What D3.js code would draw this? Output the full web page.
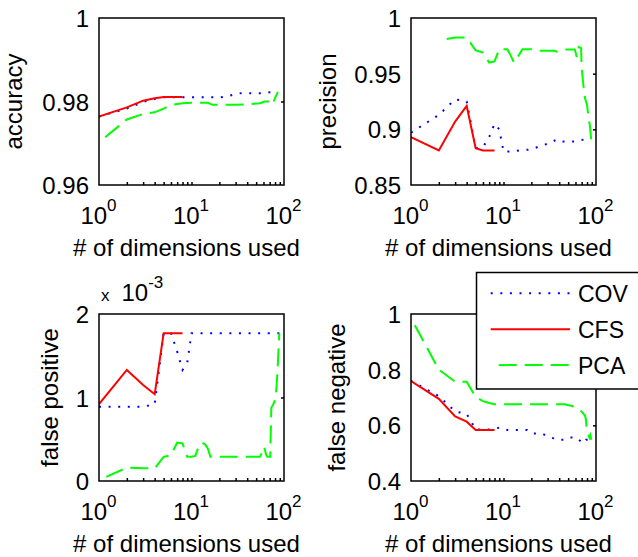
<!DOCTYPE html>
<html>
<head>
<meta charset="utf-8">
<script src="https://cdn.jsdelivr.net/npm/d3@7"></script>
<style>
    body { margin: 0; background: #fff; }
    svg { display: block; font-family: "Liberation Sans", Arial, sans-serif; }
</style>
</head>
<body>
<svg id="chart" width="638" height="557"></svg>
<script>
// Number of dimensions used (x values) and the measured values for each method

// CFS only ever picks up to 8 dimensions
const cfsDims = [1, 2, 3, 4, 5, 6, 7, 8];

// accuracy
const accCfs = [0.9764, 0.9786, 0.9802, 0.9808, 0.9811, 0.9811, 0.9811, 0.9811];
const accCovDims = [1, 2, 3, 4, 5, 6, 8, 10, 15, 20, 24, 28, 34, 45, 60, 70, 75, 86];
const accCov = [0.9764, 0.9783, 0.9799, 0.9806, 0.9810, 0.9810, 0.9810, 0.9810, 0.9810, 0.9810,
                0.9812, 0.9816, 0.9820, 0.9820, 0.9820, 0.9822, 0.9822, 0.9822];
const accPcaDims = [1, 2, 3, 4, 5, 6, 7, 8, 10, 15, 17, 30, 45, 55, 62, 74, 76, 79, 86];
const accPca = [0.9702, 0.9757, 0.9770, 0.9774, 0.9783, 0.9791, 0.9794, 0.9796, 0.9797, 0.9797,
                0.9792, 0.9792, 0.9794, 0.9796, 0.9800, 0.9800, 0.9794, 0.9806, 0.9823];

// precision
const precCfs = [0.893, 0.881, 0.907, 0.921, 0.883, 0.881, 0.881, 0.881];
const precCovDims = [1, 2, 3, 4, 5, 6, 7, 8, 9, 10, 12, 15, 20, 25, 30, 38, 44, 60, 75, 89];
const precCov = [0.897, 0.913, 0.927, 0.925, 0.883, 0.884, 0.893, 0.905, 0.900, 0.880,
                 0.880, 0.881, 0.882, 0.885, 0.887, 0.891, 0.889, 0.889, 0.891, 0.892];
const precPcaDims = [2, 3, 4, 5, 6, 7, 8, 9, 11, 12, 13, 15, 16, 20, 25, 35, 38, 48, 59,
                     62, 65, 69, 70, 73, 76, 80, 83, 86, 89];
const precPca = [0.980, 0.9825, 0.9825, 0.971, 0.969, 0.960, 0.961, 0.972, 0.972, 0.966,
                 0.960, 0.968, 0.972, 0.972, 0.9706, 0.9706, 0.9698, 0.9718, 0.9718,
                 0.965, 0.974, 0.973, 0.955, 0.940, 0.928, 0.922, 0.911, 0.903, 0.889];

// false positive rate
const fpCfs = [0.00092, 0.00133, 0.00115, 0.00104, 0.00177, 0.00177, 0.00177, 0.00177];
const fpCovDims = [1, 2, 3, 4, 5, 6, 7, 8, 9, 10, 89];
const fpCov = [0.00089, 0.00089, 0.00089, 0.00092, 0.00177, 0.00177, 0.00155, 0.00133,
               0.00142, 0.00177, 0.00177];
const fpPcaDims = [1, 2, 3, 4, 5, 6, 7, 8, 9, 10, 11, 12, 13, 14, 15, 16, 55, 58, 61, 64,
                   66, 71, 72, 73, 76, 80, 82, 85, 87, 89];
const fpPca = [0.00001, 0.00016, 0.000152, 0.000152, 0.00029, 0.00031, 0.00046, 0.00045,
               0.00029, 0.00029, 0.00030, 0.00042, 0.00046, 0.00044, 0.00039, 0.00029,
               0.00029, 0.00035, 0.00041, 0.00032, 0.00029, 0.00029, 0.00060, 0.00088,
               0.00091, 0.00097, 0.00105, 0.00130, 0.00155, 0.00177];

// false negative rate
const fnCfs = [0.759, 0.695, 0.632, 0.613, 0.583, 0.583, 0.583, 0.583];
const fnCovDims = [1, 2, 3, 4, 5, 6, 7, 8, 9, 10, 11, 18, 20, 26, 30, 35, 38, 46, 52, 62, 72, 78, 89];
const fnCov = [0.760, 0.705, 0.650, 0.641, 0.585, 0.585, 0.585, 0.586, 0.592, 0.587, 0.583,
               0.583, 0.571, 0.571, 0.560, 0.553, 0.548, 0.548, 0.556, 0.556, 0.535, 0.548, 0.550];
const fnPcaDims = [1, 2, 3, 4, 5, 6, 7, 8, 46, 59, 70, 76, 78, 79, 82, 85, 87, 89];
const fnPca = [0.985, 0.800, 0.757, 0.757, 0.702, 0.687, 0.680, 0.676, 0.676, 0.667, 0.649,
               0.635, 0.620, 0.588, 0.570, 0.556, 0.565, 0.548];

// Axis tick values
const xTicks = [1, 10, 100];
const xMinorTicks = [2, 3, 4, 5, 6, 7, 8, 9, 10, 20, 30, 40, 50, 60, 70, 80, 90];
const accTicks = [0.96, 0.98, 1];
const precTicks = [0.85, 0.9, 0.95, 1];
const fpTicks = [0, 0.001, 0.002];
const fnTicks = [0.4, 0.6, 0.8, 1];

const legendNames = ['COV', 'CFS', 'PCA'];

// Line styles, like MATLAB's 'b:', 'r-' and 'g--'
const lineStyles = {
    COV: { color: '#0000ff', dash: '2,7.6', offset: 0 },
    CFS: { color: '#ff0000', dash: null, offset: 0 },
    PCA: { color: '#00ff00', dash: '18,8', offset: 18 }
};

const PW = 185;
const PH = 167;
const FONT = 24;

const panels = [
    { name: 'acc', left: 99, top: 18, yDomain: [0.96, 1], yTicks: accTicks, inner: [0.98],
      label: 'accuracy', labelX: 22, fmt: v => String(+v.toFixed(2)),
      series: [['COV', accCovDims, accCov], ['CFS', cfsDims, accCfs], ['PCA', accPcaDims, accPca]] },
    { name: 'prec', left: 411, top: 18, yDomain: [0.85, 1], yTicks: precTicks, inner: [0.9, 0.95],
      label: 'precision', labelX: 336, fmt: v => String(+v.toFixed(2)),
      series: [['COV', precCovDims, precCov], ['CFS', cfsDims, precCfs], ['PCA', precPcaDims, precPca]] },
    { name: 'fp', left: 99, top: 314, yDomain: [0, 0.002], yTicks: fpTicks, inner: [0.001],
      label: 'false positive', labelX: 58, fmt: v => String(Math.round(v * 1000)),
      series: [['COV', fpCovDims, fpCov], ['CFS', cfsDims, fpCfs], ['PCA', fpPcaDims, fpPca]] },
    { name: 'fn', left: 411, top: 314, yDomain: [0.4, 1], yTicks: fnTicks, inner: [0.6, 0.8],
      label: 'false negative', labelX: 345, fmt: v => String(+v.toFixed(1)),
      series: [['COV', fnCovDims, fnCov], ['CFS', cfsDims, fnCfs], ['PCA', fnPcaDims, fnPca]] }
];

const svg = d3.select('#chart');

// Draw one subplot
function drawPanel(p) {
    const x = d3.scaleLog().domain([1, 100]).range([p.left, p.left + PW]);
    const y = d3.scaleLinear().domain(p.yDomain).range([p.top + PH, p.top]);
    const g = svg.append('g').attr('class', 'panel-' + p.name);

    g.append('clipPath').attr('id', 'clip-' + p.name)
        .append('rect')
        .attr('x', p.left).attr('y', p.top)
        .attr('width', PW).attr('height', PH);

    const line = d3.line()
        .x(d => x(d[0]))
        .y(d => y(d[1]));

    const lines = g.append('g').attr('clip-path', `url(#clip-${p.name})`);
    p.series.forEach(([key, dims, values]) => {
        const st = lineStyles[key];
        lines.append('path')
            .datum(d3.zip(dims, values))
            .attr('d', line)
            .attr('fill', 'none')
            .attr('stroke', st.color)
            .attr('stroke-width', 2)
            .attr('stroke-dasharray', st.dash)
            .attr('stroke-dashoffset', st.offset);
    });

    // Axes box
    g.append('rect')
        .attr('x', p.left).attr('y', p.top)
        .attr('width', PW).attr('height', PH)
        .attr('fill', 'none')
        .attr('stroke', '#000')
        .attr('stroke-width', 1.5);

    // Minor ticks along the bottom, pointing inward
    const minor = g.append('g')
        .attr('transform', `translate(0,${p.top + PH})`)
        .call(d3.axisTop(x).tickValues(xMinorTicks).tickSize(3).tickFormat(''));
    minor.select('.domain').remove();
    minor.selectAll('line').attr('stroke-width', 1.5);

    // Inner ticks on the right border
    const right = g.append('g')
        .attr('transform', `translate(${p.left + PW},0)`)
        .call(d3.axisLeft(y).tickValues(p.inner).tickSize(3).tickFormat(''));
    right.select('.domain').remove();
    right.selectAll('line').attr('stroke-width', 1.5);

    // Y tick labels
    const yAxis = g.append('g')
        .attr('transform', `translate(${p.left},0)`)
        .call(d3.axisLeft(y).tickValues(p.yTicks).tickSize(0).tickPadding(10).tickFormat(p.fmt))
        .attr('font-family', null)
        .attr('font-size', FONT);
    yAxis.select('.domain').remove();
    yAxis.selectAll('text').attr('fill', '#000').attr('dy', '0.36em');

    // X tick labels as 10^n
    const xAxis = g.append('g')
        .attr('transform', `translate(0,${p.top + PH})`)
        .call(d3.axisBottom(x).tickValues(xTicks).tickSize(0).tickFormat(''))
        .attr('font-family', null)
        .attr('font-size', FONT);
    xAxis.select('.domain').remove();
    xAxis.selectAll('.tick text')
        .attr('fill', '#000')
        .attr('x', -1)
        .attr('y', 39)
        .attr('dy', null)
        .each(function(d) {
            const t = d3.select(this);
            t.append('tspan').text('10');
            t.append('tspan')
                .attr('font-size', 17)
                .attr('dy', -13)
                .text(Math.round(Math.log10(d)));
        });

    // Axis labels
    g.append('text')
        .attr('x', p.left + PW / 2 - 5)
        .attr('y', p.top + PH + 71)
        .attr('text-anchor', 'middle')
        .attr('font-size', FONT)
        .text('# of dimensions used');

    g.append('text')
        .attr('transform', `translate(${p.labelX},${p.top + PH / 2}) rotate(-90)`)
        .attr('text-anchor', 'middle')
        .attr('font-size', FONT)
        .text(p.label);
}

panels.forEach(drawPanel);

// Exponent note above the false positive axes
const expo = svg.append('text')
    .attr('x', 101)
    .attr('y', 301)
    .attr('font-size', FONT);
expo.append('tspan').attr('font-size', 17).text('x');
expo.append('tspan').attr('dx', 12).text('10');
expo.append('tspan').attr('font-size', 17).attr('dy', -13).text('-3');

// Legend, sits on top of the false negative axes and runs off the figure edge
function drawLegend() {
    const lg = svg.append('g').attr('class', 'legend');
    lg.append('rect')
        .attr('x', 476.5).attr('y', 272.5)
        .attr('width', 200).attr('height', 116.5)
        .attr('fill', '#fff')
        .attr('stroke', '#000')
        .attr('stroke-width', 1.5);

    legendNames.forEach((name, i) => {
        const st = lineStyles[name];
        const ly = 293.3 + i * 35.9;
        lg.append('line')
            .attr('x1', 490.7).attr('x2', 570)
            .attr('y1', ly).attr('y2', ly)
            .attr('stroke', st.color)
            .attr('stroke-width', 2)
            .attr('stroke-dasharray', st.dash)
            .attr('stroke-dashoffset', st.offset);
        lg.append('text')
            .attr('x', 578)
            .attr('y', ly + 9)
            .attr('font-size', 23)
            .text(name);
    });
}

drawLegend();
</script>
</body>
</html>
